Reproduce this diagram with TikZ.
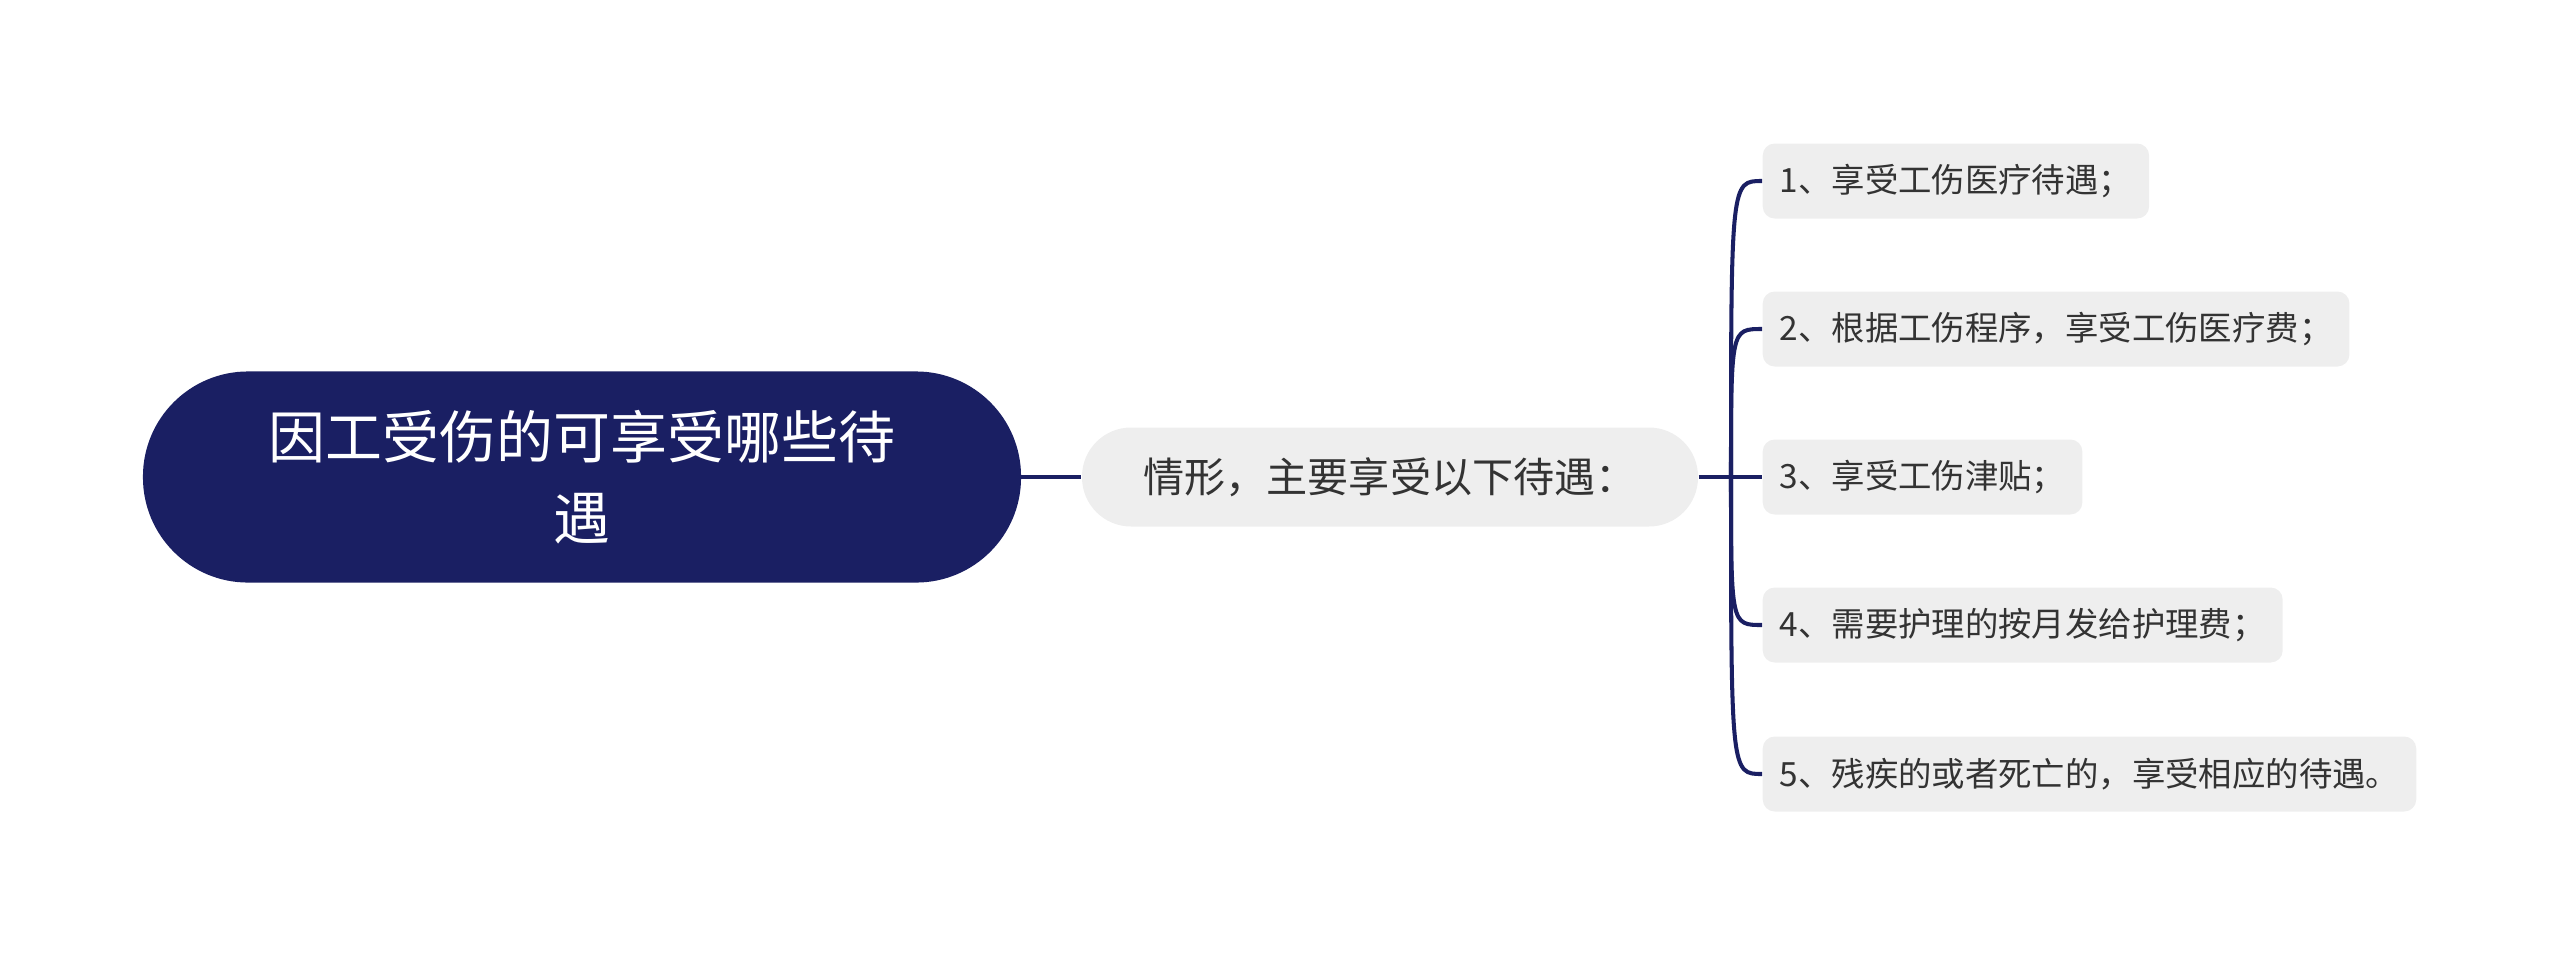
\documentclass[tikz,border=0pt]{standalone}
\usepackage{fontspec}
\setmainfont{Noto Sans CJK SC}
\usetikzlibrary{positioning,calc}
\definecolor{mapNavy}{RGB}{26,31,99}
\definecolor{mapGrey}{RGB}{238,238,238}
\definecolor{mapText}{RGB}{51,51,51}

\begin{document}
\begin{tikzpicture}[
  rootbox/.style={rounded corners=1.04cm, draw=mapNavy, line width=0.6pt, fill=mapNavy, text=white,
    minimum width=8.76cm, minimum height=2.09cm, align=center, font=\fontsize{16.2pt}{23pt}\selectfont},
  midbox/.style={rounded corners=0.49cm, draw=none, fill=mapGrey, text=mapText,
    minimum width=6.16cm, minimum height=0.99cm, font=\fontsize{11.7pt}{14pt}\selectfont},
  leafbox/.style={rounded corners=0.12cm, draw=none, fill=mapGrey, text=mapText, anchor=west,
    inner xsep=0.17cm, minimum height=0.75cm, font=\fontsize{9.5pt}{12pt}\selectfont},
  link/.style={draw=mapNavy, line width=1.15pt},
]
\useasboundingbox (0,0) rectangle (25.6,-9.55);

% one leaf on the right: #1 id, #2 y coord, #3 text
\newcommand{\branchleaf}[3]{%
  \node[leafbox] (l#1) at (17.62,#2) {#3};
  \draw[link] (jn) .. controls (jn |- l#1.west) .. (l#1.west);
}

% ======================= root and middle topic =======================
\node[rootbox] (root) at (5.82,-4.77) {因工受伤的可享受哪些待\\遇};
\node[midbox]  (mid)  at (13.90,-4.77) {情形，主要享受以下待遇：};
\coordinate (jn) at (17.31,-4.77);
\draw[link] (root.east) -- (mid.west);
\draw[link] (mid.east) -- (jn);

% ======================= leaves =======================
\branchleaf{1}{-1.81}{1、享受工伤医疗待遇；}
\branchleaf{2}{-3.29}{2、根据工伤程序，享受工伤医疗费；}
\branchleaf{3}{-4.77}{3、享受工伤津贴；}
\branchleaf{4}{-6.25}{4、需要护理的按月发给护理费；}
\branchleaf{5}{-7.74}{5、残疾的或者死亡的，享受相应的待遇。}

\end{tikzpicture}
\end{document}
